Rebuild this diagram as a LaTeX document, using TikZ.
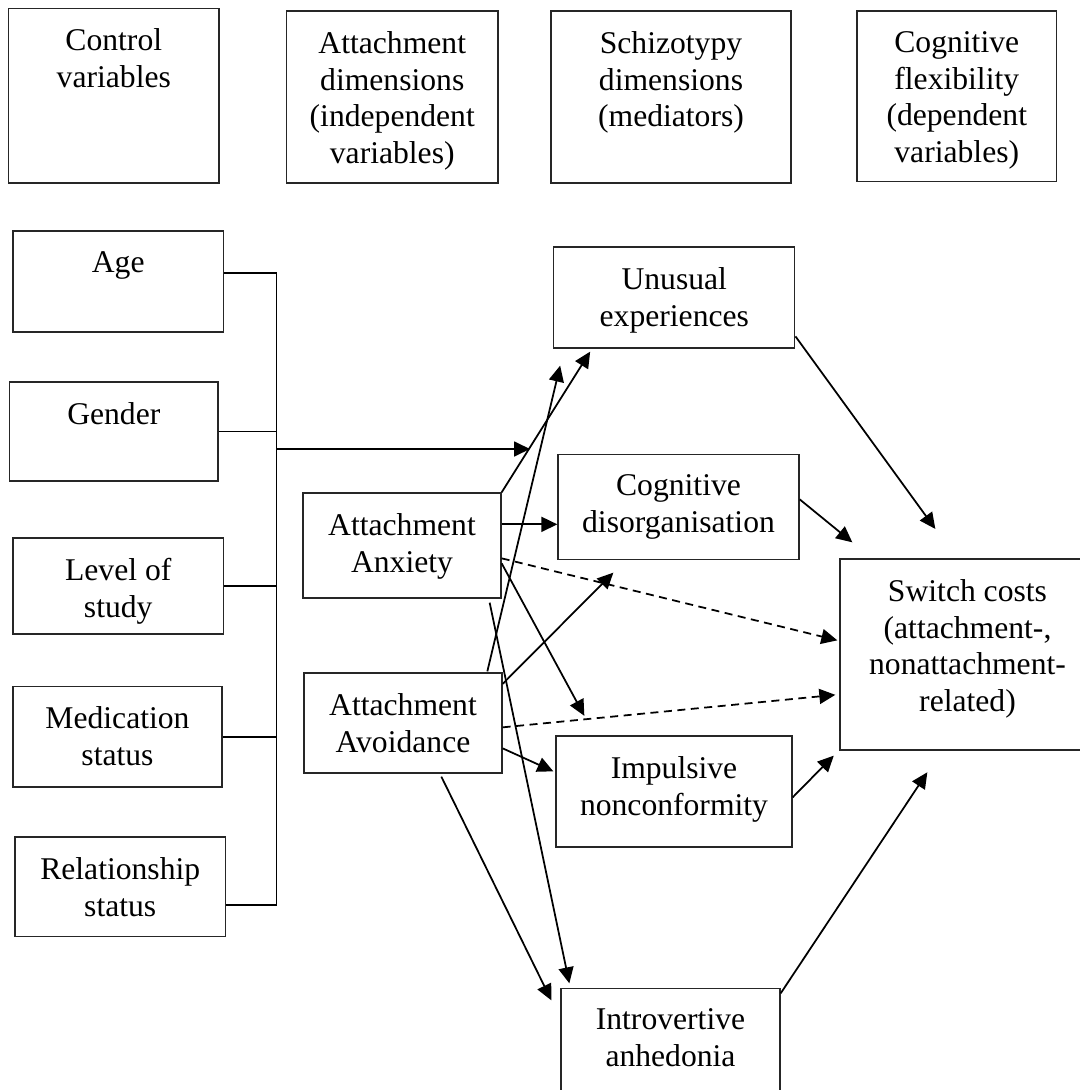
\documentclass[tikz,border=0pt]{standalone}
\usepackage{fontspec}
\setmainfont{Liberation Serif}
\usetikzlibrary{positioning,calc,arrows.meta}

\begin{document}
\begin{tikzpicture}[
    x=0.2mm, y=-0.2mm,
    box/.style 2 args = {
      draw=black!85,
      line width=0.75pt,
      inner sep=0pt,
      minimum width=#1,
      minimum height=#2
    },
    txt/.style = {
      anchor=north,
      inner sep=0pt,
      label distance=-4.1mm,
      align=center,
      font=\fontsize{18}{21}\selectfont
    },
    link/.style = {line width=1pt, draw=black},
    arrow/.style = {-{Triangle[length=3.2mm, width=3mm]}, line width=1pt, draw=black},
    dasharrow/.style = {arrow, dash pattern=on 1.6mm off 1.1mm}
  ]
\path[use as bounding box] (0,0) rectangle (1080,1090);
\clip (0,0) rectangle (1080,1090);

\node[box={42.08mm}{34.88mm}, label={[txt]north:{Control\\variables}}] (ctrlHead) at (113.8, 95.8) {};
\node[box={42.3mm}{34.4mm}, label={[txt]north:{Attachment\\dimensions\\(independent\\variables)}}] (attHead) at (392.25, 97) {};
\node[box={48mm}{34.4mm}, label={[txt]north:{Schizotypy\\dimensions\\(mediators)}}] (schizHead) at (671, 97) {};
\node[box={39.9mm}{34.1mm}, label={[txt]north:{Cognitive\\flexibility\\(dependent\\variables)}}] (flexHead) at (956.75, 96.25) {};

\node[box={42.1mm}{20.2mm}, label={[txt]north:{Age}}] (age) at (118.25, 281.5) {};
\node[box={41.68mm}{19.8mm}, label={[txt]north:{Gender}}] (gender) at (113.8, 431.5) {};
\node[box={42.1mm}{19.2mm}, label={[txt]north:{Level of\\study}}] (level) at (118.25, 586) {};
\node[box={41.8mm}{20.1mm}, label={[txt]north:{Medication\\status}}] (medication) at (117.5, 736.75) {};
\node[box={42.1mm}{19.9mm}, label={[txt]north:{Relationship\\status}}] (relationship) at (120.25, 886.75) {};

\node[box={39.6mm}{21mm}, label={[txt]north:{Attachment\\Anxiety}}] (anxiety) at (402, 545.5) {};
\node[box={39.6mm}{20mm}, label={[txt]north:{Attachment\\Avoidance}}] (avoidance) at (403, 723) {};

\node[box={48.2mm}{20.2mm}, label={[txt]north:{Unusual\\experiences}}] (unusual) at (674.3, 297.5) {};
\node[box={48.2mm}{21mm}, label={[txt]north:{Cognitive\\disorganisation}}] (disorg) at (678.5, 507) {};
\node[box={47.2mm}{22.2mm}, label={[txt]north:{Impulsive\\nonconformity}}] (impulsive) at (674, 791.5) {};
\node[box={43.8mm}{24.3mm}, label={[txt]north:{Introvertive\\anhedonia}}] (anhedonia) at (670.5, 1049.25) {};

\node[box={51mm}{38.2mm}, label={[txt]north:{Switch costs\\(attachment-,\\nonattachment-\\related)}}] (switchcost) at (967.5, 654.5) {};

\coordinate (busTop) at (276.5, 273);
\coordinate (busBot) at (276.5, 905);
\coordinate (ctrlEnd) at (530, 449);

\draw[link] (age.east |- busTop) -- (busTop) -- (busBot) -- (relationship.east |- busBot);
\draw[link] (gender.east) -- (gender.east -| busTop);
\draw[link] (level.east) -- (level.east -| busTop);
\draw[link] (medication.east) -- (medication.east -| busTop);
\draw[arrow] (busTop |- ctrlEnd) -- (ctrlEnd);

\draw[arrow] (anxiety.north east) -- ($(unusual.south west)+(37,3)$);
\draw[arrow] ($(anxiety.north east)+(0,32)$) -- ($(disorg.north west)+(0,70.5)$);
\draw[dasharrow] ($(anxiety.north east)+(0,66)$) -- ($(switchcost.north west)+(-2,82)$);
\draw[arrow] ($(anxiety.north east)+(0,71)$) -- ($(impulsive.north west)+(29,-19.5)$);
\draw[arrow] ($(anxiety.south east)+(-12,4)$) -- ($(anhedonia.north west)+(9,-4.5)$);

\draw[arrow] ($(avoidance.north west)+(184,-1)$) -- ($(unusual.south west)+(7,17)$);
\draw[arrow] ($(avoidance.north east)+(0,11.5)$) -- ($(disorg.south west)+(56,12.5)$);
\draw[dasharrow] ($(avoidance.north east)+(0,55)$) -- ($(switchcost.north west)+(-4,136.5)$);
\draw[arrow] ($(avoidance.north east)+(0,76)$) -- ($(impulsive.north west)+(-2,36)$);
\draw[arrow] ($(avoidance.south west)+(138,3)$) -- ($(anhedonia.north west)+(-9,12.5)$);

\draw[arrow] ($(unusual.south east)+(0,-12.3)$) -- ($(switchcost.north west)+(96,-29.4)$);
\draw[arrow] ($(disorg.north east)+(0,45.5)$) -- ($(switchcost.north west)+(13,-16)$);
\draw[arrow] ($(impulsive.north east)+(0,62)$) -- ($(switchcost.south west)+(-5.6,5)$);
\draw[arrow] ($(anhedonia.north east)+(0,5.5)$) -- ($(switchcost.south west)+(88,21.6)$);
\end{tikzpicture}
\end{document}
